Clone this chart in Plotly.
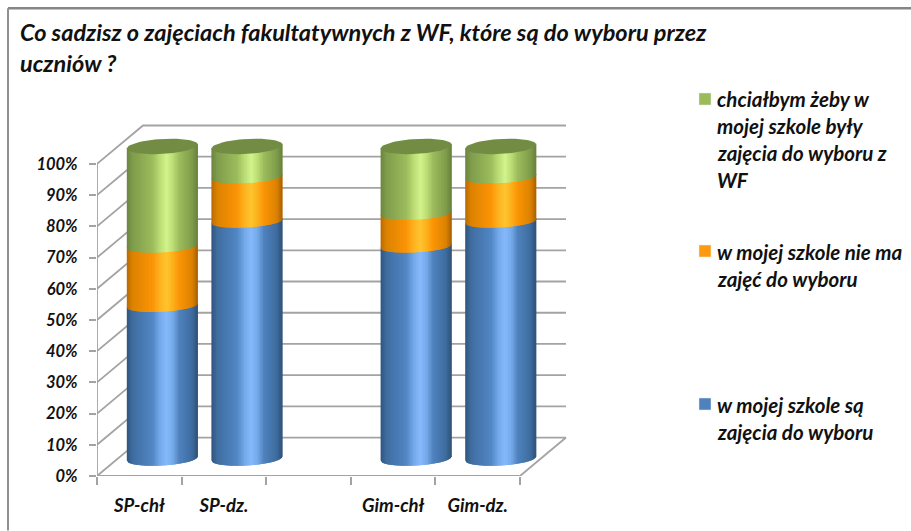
import math
import plotly.graph_objects as go

# ---------- data ----------
categories = ["SP-chł", "SP-dz.", "", "Gim-chł", "Gim-dz."]
blue_values = [49, 76, None, 68, 76]      # w mojej szkole są zajęcia do wyboru
orange_values = [19, 14.2, None, 10.5, 14.2]  # w mojej szkole nie ma zajęć do wyboru
green_values = [32, 9.8, None, 21.5, 9.8]   # chciałbym żeby ...
y_ticks = [0, 10, 20, 30, 40, 50, 60, 70, 80, 90, 100]
y_tick_labels = ["0%", "10%", "20%", "30%", "40%", "50%", "60%", "70%", "80%", "90%", "100%"]
title_lines = ["Co sadzisz o zajęciach fakultatywnych z WF, które są do wyboru przez", "uczniów ?"]
legend_green = ["chciałbym żeby w", "mojej szkole były", "zajęcia do wyboru z", "WF"]
legend_orange = ["w mojej szkole nie ma", "zajęć do wyboru"]
legend_blue = ["w mojej szkole są", "zajęcia do wyboru"]

# ---------- style / geometry ----------
W, H = 911, 531
L, T, B = 97, 115, 476.5                  # plot area left / top / bottom in pixels
R = 575
PX_X = (520 - 97) / 5.0                   # pixels per category slot
PX_Y = (476.5 - 164) / 100.0              # pixels per percent
X_MIN = -0.5
X_MAX = X_MIN + (R - L) / PX_X
Y_MAX = (B - T) / PX_Y
WALL_DX = 46 / PX_X                       # 3-D depth in axis units
WALL_DY = 38.5 / PX_Y
MID_DX = WALL_DX / 2
BASE_DY = 17.5 / PX_Y
RX = 35.5 / PX_X
RY_BASE = 7.0 / PX_Y
RY_RING = 6.0 / PX_Y
RY_TOP = 7.5 / PX_Y
TILT = 2.0 / PX_Y
OVERLAP = 1.0 / PX_Y
STRIPS = 48
GRID = "#a3a3a3"
FONT = "Lato"
INK = "#111111"

blue_stops = [(0, "#2f5580"), (0.08, "#3f6d9f"), (0.36, "#5186c4"), (0.47, "#74aaea"), (0.56, "#85b9fb"),
              (0.65, "#74aaea"), (0.74, "#4f82bd"), (0.92, "#3e6c9f"), (1, "#2f5075")]
orange_stops = [(0, "#b86a00"), (0.08, "#dc8200"), (0.36, "#fb9406"), (0.47, "#fdb320"), (0.56, "#fec52f"),
                (0.65, "#fdb01c"), (0.74, "#fb9406"), (0.92, "#dc8200"), (1, "#a86000")]
green_stops = [(0, "#6b8540"), (0.08, "#7f9c4b"), (0.36, "#9cbc5c"), (0.47, "#bcdc75"), (0.56, "#d2f48c"),
               (0.65, "#bcdc75"), (0.74, "#9cbc5c"), (0.92, "#7f9c4b"), (1, "#67803c")]
top_cap = "#728c44"


def hex_rgb(c):
    return tuple(int(c[i:i + 2], 16) for i in (1, 3, 5))


def shade(stops, u):
    for (u0, c0), (u1, c1) in zip(stops, stops[1:]):
        if u0 <= u <= u1:
            f = (u - u0) / (u1 - u0)
            a, b = hex_rgb(c0), hex_rgb(c1)
            return "rgb(%d,%d,%d)" % tuple(round(a[i] + (b[i] - a[i]) * f) for i in range(3))
    return stops[-1][1]


def front_edge(level, u, ry):
    """y (in %) on the front of the ring at height `level`; u runs 0..1 across the cylinder."""
    c = 2 * u - 1
    return level + BASE_DY - ry * math.sqrt(max(0, 1 - c * c)) + TILT * c


def px(x):
    return (x - L) / (R - L)


def py(y):
    return (B - y) / (B - T)


fig = go.Figure()


def add_line(xs, ys):
    fig.add_trace(go.Scatter(x=xs, y=ys, mode="lines", hoverinfo="skip", showlegend=False,
                             line=dict(color=GRID, width=1.8)))


# walls, floor and front axis lines
x_left, x_right = X_MIN, X_MIN + 5
for v in y_ticks:
    add_line([x_left, x_left + WALL_DX, x_right + WALL_DX], [v, v + WALL_DY, v + WALL_DY])
add_line([x_right, x_right + WALL_DX], [0, WALL_DY])
add_line([x_left, x_right], [0, 0])
add_line([x_left, x_left], [0, 100])

# cylinders
series = [(blue_values, blue_stops), (orange_values, orange_stops), (green_values, green_stops)]
for i, cat in enumerate(categories):
    if blue_values[i] is None:
        continue
    cx = i + MID_DX
    base = 0
    for s, (values, stops) in enumerate(series):
        top = base + values[i]
        ry_low = RY_BASE if s == 0 else RY_RING
        ry_up = RY_TOP if s == 2 else RY_RING
        for k in range(STRIPS):
            u0, u1 = k / STRIPS, min(1, (k + 2) / STRIPS)   # overlaps the next strip, painted left to right
            col = shade(stops, (k + 0.5) / STRIPS)
            xs, ys = [], []
            sub = [u0 + (u1 - u0) * j / 4 for j in range(5)]
            for u in sub:
                xs.append(cx - RX + 2 * RX * u)
                ys.append(front_edge(base, u, ry_low))
            for u in reversed(sub):
                xs.append(cx - RX + 2 * RX * u)
                ys.append(front_edge(top, u, ry_up) + OVERLAP)
            fig.add_trace(go.Scatter(x=xs, y=ys, mode="lines", fill="toself", fillcolor=col,
                                     line=dict(color=col, width=0), hoverinfo="skip", showlegend=False))
        base = top
    # top cap
    xs, ys = [], []
    for d in range(0, 361, 6):
        t = math.radians(d)
        xs.append(cx + RX * math.cos(t))
        ys.append(base + BASE_DY + RY_TOP * math.sin(t) + TILT * math.cos(t))
    fig.add_trace(go.Scatter(x=xs, y=ys, mode="lines", fill="toself", fillcolor=top_cap,
                             line=dict(color=top_cap, width=0), hoverinfo="skip", showlegend=False))

# legend swatches (text placed below so its line spacing can follow the original)
for col, lg in [("#9bbb59", "legend"), ("#ff9a0e", "legend2"), ("#4f81bd", "legend3")]:
    fig.add_trace(go.Bar(x=[None], y=[None], name=" ", marker=dict(color=col), legend=lg))

legend_common = dict(xref="container", yref="container", xanchor="left", yanchor="middle", bgcolor="rgba(0,0,0,0)",
                     itemclick=False, itemdoubleclick=False, font=dict(family=FONT, size=12))


def leg(y):
    return dict(legend_common, x=685 / W, y=1 - y / H)


annotations = []
for lines, first_y in [(legend_green, 99), (legend_orange, 252), (legend_blue, 405)]:
    for n, line in enumerate(lines):
        annotations.append(dict(xref="paper", yref="paper", x=px(714.5), y=py(first_y + 27 * n), text=line,
                                xanchor="left", yanchor="middle", showarrow=False,
                                font=dict(family=FONT, size=20.5, color=INK, style="italic", weight=700)))

fig.update_layout(
    width=W, height=H, autosize=False, margin=dict(l=L, r=W - R, t=T, b=H - B),
    paper_bgcolor="white", plot_bgcolor="rgba(0,0,0,0)", barmode="stack",
    title=dict(text="<br>".join(title_lines), xref="container", yref="container", x=20 / W, y=1 - 41 / H,
               xanchor="left", yanchor="top",
               font=dict(family=FONT, size=23.5, color=INK, style="italic", weight=700)),
    legend=leg(99), legend2=leg(251), legend3=leg(404),
    annotations=annotations,
    xaxis=dict(range=[X_MIN, X_MAX], tickmode="array", tickvals=list(range(5)), ticktext=categories,
               ticks="", showgrid=False, zeroline=False, showline=False, ticklabelstandoff=16,
               tickfont=dict(family=FONT, size=18.5, color=INK, style="italic", weight=700),
               minor=dict(tickmode="array", tickvals=[-0.5, 0.5, 1.5, 2.5, 3.5, 4.5], ticks="outside", ticklen=8,
                          tickcolor=GRID, tickwidth=2)),
    yaxis=dict(range=[0, Y_MAX], tickmode="array", tickvals=y_ticks, ticktext=y_tick_labels, ticks="outside",
               ticklen=7, tickcolor=GRID, tickwidth=2, showgrid=False, zeroline=False, showline=False,
               ticklabelstandoff=8,
               tickfont=dict(family=FONT, size=16.5, color=INK, style="italic", weight=700)),
    shapes=[
        dict(type="line", xref="paper", yref="paper", x0=px(8), x1=px(W), y0=py(8), y1=py(8),
             line=dict(color="#858585", width=2.5), layer="below"),
        dict(type="line", xref="paper", yref="paper", x0=px(8), x1=px(8), y0=py(8), y1=py(H),
             line=dict(color="#909090", width=2), layer="below"),
    ],
)
fig.write_html("out.html", config={"displayModeBar": False},
               post_script="document.body.style.margin='0';")
